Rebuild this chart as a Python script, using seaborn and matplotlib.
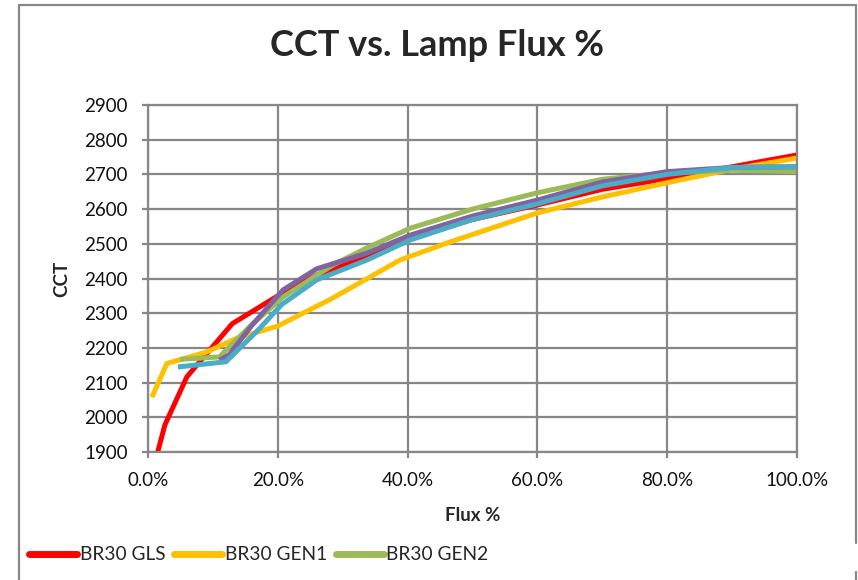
import matplotlib

matplotlib.use("Agg")
import matplotlib.pyplot as plt
import pandas as pd
import seaborn as sns
from matplotlib.lines import Line2D
from matplotlib.ticker import FuncFormatter, MultipleLocator

# data (flux in %, CCT in K)
GLS_FLUX = [1.5, 2.6, 6, 13, 20, 26, 33.7, 40, 50, 60, 70, 80, 90, 100]
GLS_CCT = [1900, 1978, 2117, 2270, 2350, 2410, 2462, 2515, 2570, 2612, 2657, 2688, 2722, 2756]

GEN1_FLUX = [0.6, 2.9, 9, 13.7, 20, 28.5, 38.8, 46.5, 60, 70, 80, 90, 100]
GEN1_CCT = [2058, 2155, 2188, 2228, 2263, 2344, 2453, 2505, 2589, 2635, 2676, 2715, 2747]

GEN2_FLUX = [4.9, 11, 15.7, 20.8, 28.5, 33.7, 40.4, 50, 60, 70, 80, 90, 100]
GEN2_CCT = [2167, 2174, 2262, 2347, 2439, 2488, 2545, 2600, 2647, 2686, 2704, 2712, 2708]

PURPLE_FLUX = [11, 12.5, 16, 20.8, 26, 33.7, 40.4, 50, 60, 70, 80, 90, 100]
PURPLE_CCT = [2165, 2180, 2265, 2367, 2428, 2473, 2525, 2580, 2626, 2678, 2708, 2720, 2722]

CYAN_FLUX = [4.6, 12, 17, 20.6, 26, 33.7, 40.4, 50, 60, 70, 80, 90, 100]
CYAN_CCT = [2145, 2160, 2252, 2325, 2396, 2453, 2511, 2570, 2615, 2667, 2700, 2720, 2722]

SERIES = ["BR30 GLS", "BR30 GEN1", "BR30 GEN2", "Series 4", "Series 5"]
COLORS = ["#FF0000", "#FFC000", "#9BBB59", "#8064A2", "#4BACC6"]
LEGEND_SHOWN = 3

GRID = "#878787"


def build_frame() -> pd.DataFrame:
    parts = []
    pairs = [
        (GLS_FLUX, GLS_CCT),
        (GEN1_FLUX, GEN1_CCT),
        (GEN2_FLUX, GEN2_CCT),
        (PURPLE_FLUX, PURPLE_CCT),
        (CYAN_FLUX, CYAN_CCT),
    ]
    for name, (flux, cct) in zip(SERIES, pairs):
        parts.append(pd.DataFrame({"flux": flux, "cct": cct, "series": name}))
    return pd.concat(parts, ignore_index=True)


def main() -> None:
    sns.set_theme(style="white")
    plt.rcParams["font.family"] = ["Lato", "DejaVu Sans"]

    df = build_frame()

    fig = plt.figure(figsize=(8.58, 5.80), dpi=100)
    ax = fig.add_axes([148 / 858, 1 - 452 / 580, (797 - 148) / 858, (452 - 105) / 580])

    sns.lineplot(
        data=df, x="flux", y="cct", hue="series", hue_order=SERIES,
        palette=COLORS, sort=False, estimator=None, linewidth=3.6,
        legend=False, ax=ax, solid_capstyle="butt",
    )

    ax.set_xlim(0, 100)
    ax.set_ylim(1900, 2900)
    ax.xaxis.set_major_locator(MultipleLocator(20))
    ax.yaxis.set_major_locator(MultipleLocator(100))
    ax.xaxis.set_major_formatter(FuncFormatter(lambda v, _: f"{v:.1f}%"))

    ax.grid(True, color=GRID, linewidth=1.6)
    ax.set_axisbelow(True)
    for spine in ax.spines.values():
        spine.set_color(GRID)
        spine.set_linewidth(1.6)

    ax.tick_params(axis="both", which="major", direction="out", length=4.5,
                   width=1.6, color=GRID, labelsize=13.5, labelcolor="#111111")
    ax.tick_params(axis="x", pad=10, bottom=True)
    ax.tick_params(axis="y", pad=10, left=True)

    ax.set_xlabel("Flux %", fontsize=13.5, fontweight="bold", labelpad=13)
    ax.set_ylabel("CCT", fontsize=13.5, fontweight="bold", labelpad=10)

    fig.text(437.5 / 858, 1 - 45 / 580, "CCT vs. Lamp Flux %", ha="center",
             va="center", fontsize=26, fontweight="bold")

    handles = [Line2D([], [], color=c, linewidth=5) for c in COLORS[:LEGEND_SHOWN]]
    fig.legend(handles, SERIES[:LEGEND_SHOWN], loc="center left",
               bbox_to_anchor=(29 / 858, 1 - 555 / 580), ncol=LEGEND_SHOWN,
               frameon=False, fontsize=13.8, handlelength=2.5, handletextpad=0.15,
               columnspacing=0.45, borderpad=0, borderaxespad=0)

    # outer chart frame
    frame_kw = dict(color=GRID, linewidth=1.6, transform=fig.transFigure)
    fig.add_artist(Line2D([19 / 858, 19 / 858], [0, 1 - 5 / 580], **frame_kw))
    fig.add_artist(Line2D([19 / 858, 856 / 858], [1 - 5 / 580, 1 - 5 / 580], **frame_kw))
    fig.add_artist(Line2D([856 / 858, 856 / 858], [1 - 5 / 580, 1 - 543 / 580], **frame_kw))
    fig.add_artist(Line2D([856 / 858, 856 / 858], [1 - 572 / 580, 0], **frame_kw))

    fig.savefig("out.png", dpi=100)
    plt.close(fig)


if __name__ == "__main__":
    main()
